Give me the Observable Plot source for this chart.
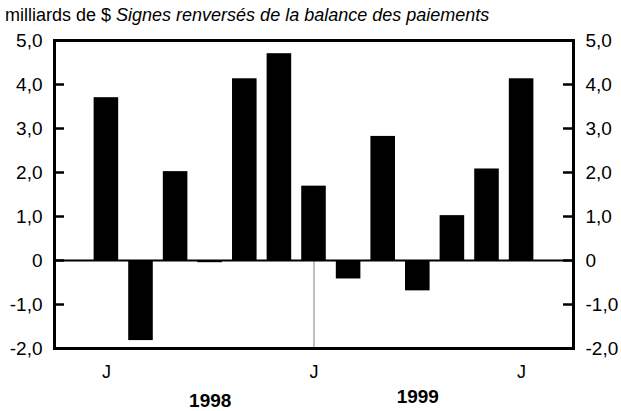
<!DOCTYPE html>
<html><head><meta charset="utf-8">
<script src="https://cdn.jsdelivr.net/npm/d3@7"></script>
<script src="https://cdn.jsdelivr.net/npm/@observablehq/plot@0.6"></script>
<style>
body{margin:0;background:#fff;font-family:"Liberation Sans",Arial,sans-serif;color:#000;}
#title{height:28px;font-size:18px;line-height:28px;padding-left:5px;white-space:nowrap;position:relative;top:1px}
</style></head><body>
<div id="title">milliards de $ <i>Signes renversés de la balance des paiements</i></div>
<div id="chart"></div>
<script>
// Months shown (July 1998 to July 1999)
const months = ["1998-07","1998-08","1998-09","1998-10","1998-11","1998-12","1999-01","1999-02","1999-03","1999-04","1999-05","1999-06","1999-07"];
const values = [3.7, -1.82, 2.02, -0.05, 4.13, 4.7, 1.69, -0.42, 2.82, -0.69, 1.02, 2.08, 4.13];
// Empty slots at both ends of the axis
const padMonths = ["1998-06", "1999-08"];
const monthTicks = ["1998-07", "1999-01", "1999-07"];
const monthTickLabels = ["J", "J", "J"];
const yTicks = [-2, -1, 0, 1, 2, 3, 4, 5];
const years = ["1998", "1999"];
const yearAt = ["1998-10", "1999-04"];
const divider = ["1999-01"];

const data = months.map((m, i) => ({month: m, value: values[i]}));
const tickLabel = new Map(monthTicks.map((m, i) => [m, monthTickLabels[i]]));
const fmt = d => d === 0 ? "0" : d.toFixed(1).replace(".", ",");
const domainX = [padMonths[0], ...months, padMonths[1]];

const W = 621, H = 383, ML = 54, MR = 48, MT = 12, MB = 63;
const PW = W - ML - MR;

const chart = Plot.plot({
  width: W, height: H,
  marginLeft: ML, marginRight: MR, marginTop: MT, marginBottom: MB,
  style: {fontFamily: "'Liberation Sans', Arial, sans-serif", fontSize: "19px", color: "#000", background: "#fff"},
  x: {domain: domainX, paddingInner: 0.29, paddingOuter: 0.145, round: false, label: null},
  y: {domain: [-2, 5], label: null},
  marks: [
    Plot.ruleX(divider, {x: d => d, y1: 0, y2: -2, stroke: "#808080", strokeWidth: 1}),
    Plot.barY(data, {x: "month", y: "value", fill: "#000"}),
    Plot.ruleY([0], {stroke: "#000", strokeWidth: 2}),
    Plot.ruleY(yTicks, {insetRight: PW - 10, stroke: "#000", strokeWidth: 2.5}),
    Plot.ruleY(yTicks, {insetLeft: PW - 10, stroke: "#000", strokeWidth: 2.5}),
    Plot.frame({stroke: "#000", strokeWidth: 3}),
    Plot.axisY({anchor: "left", ticks: yTicks, tickFormat: fmt, tickSize: 0, tickPadding: 12, label: null, fontSize: 19}),
    Plot.axisY({anchor: "right", ticks: yTicks, tickFormat: fmt, tickSize: 0, tickPadding: 12, label: null, fontSize: 19}),
    Plot.axisX({ticks: monthTicks, tickFormat: d => tickLabel.get(d), tickSize: 0, tickPadding: 17, label: null, fontSize: 18}),
    Plot.text([years[0]], {x: [yearAt[0]], y: [-2], text: d => d, dy: 52, fontWeight: "bold", fontSize: 19}),
    Plot.text([years[1]], {x: [yearAt[1]], y: [-2], text: d => d, dy: 48, fontWeight: "bold", fontSize: 19})
  ]
});
document.getElementById("chart").appendChild(chart);
</script>
</body></html>
